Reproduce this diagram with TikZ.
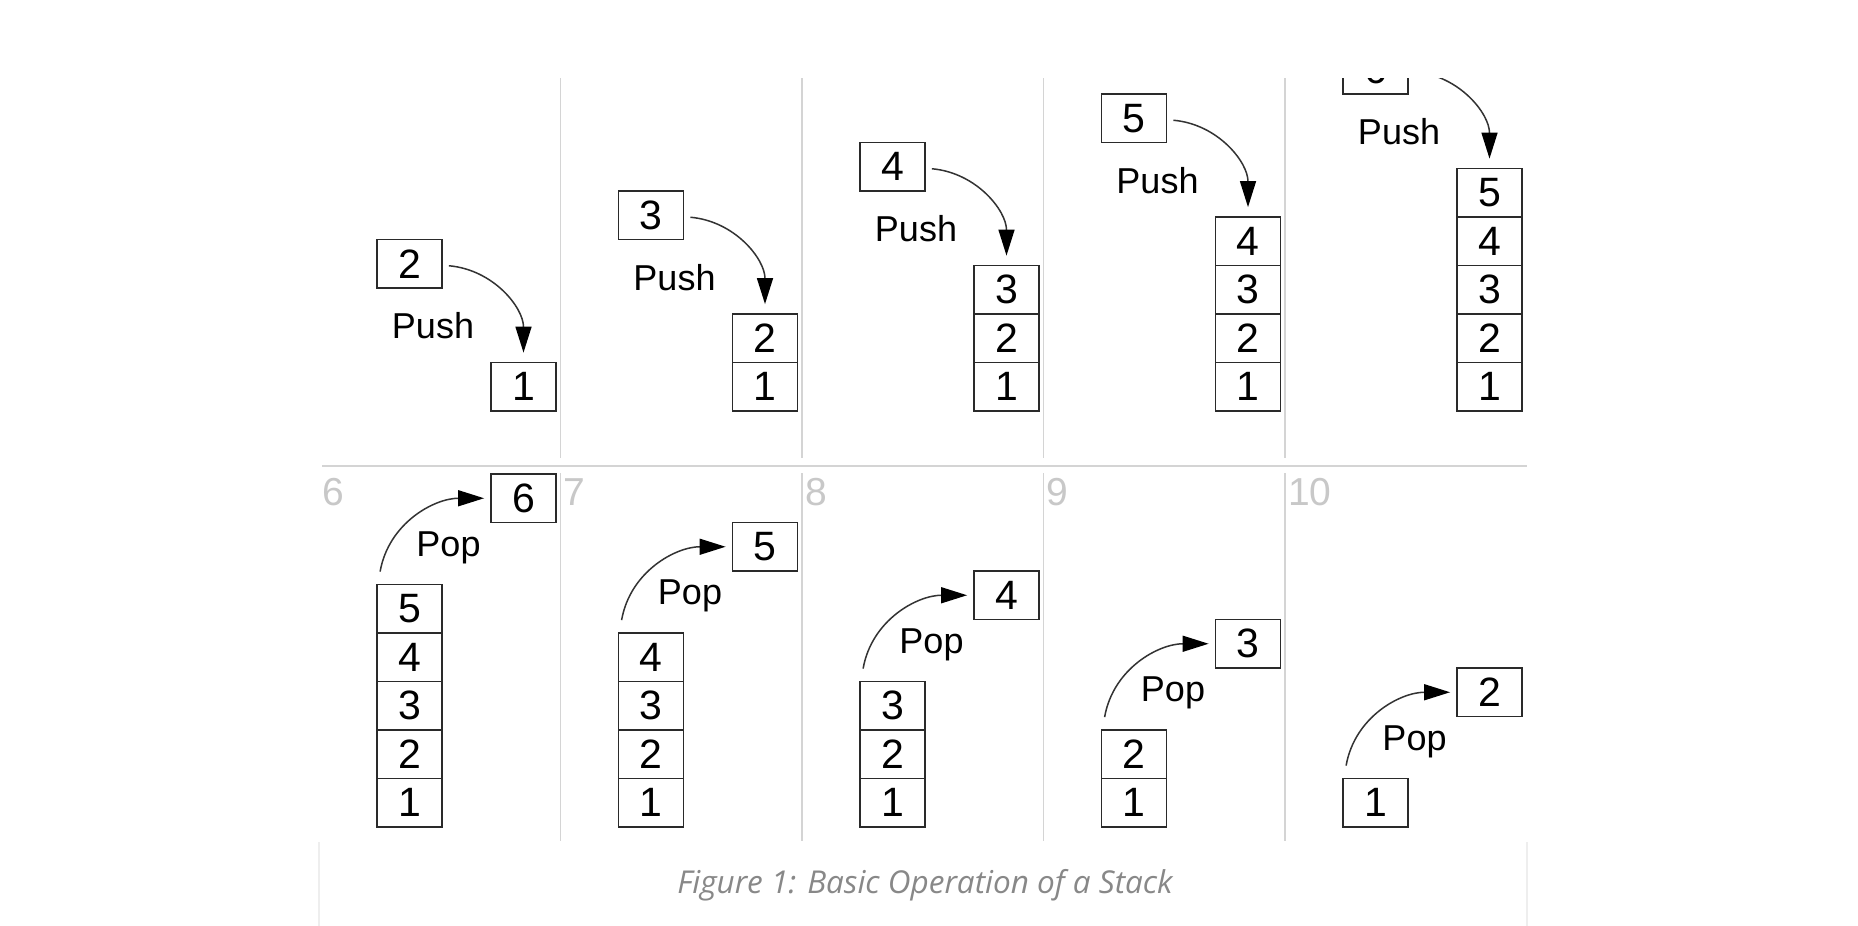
\documentclass[tikz,border=0pt]{standalone}
\usepackage{fontspec}
\setmainfont{Liberation Sans}
\newfontfamily\capfont{Open Sans}
\usetikzlibrary{arrows.meta}
\definecolor{boxline}{HTML}{2A2A2A}
\definecolor{arrline}{HTML}{333333}
\definecolor{divider}{HTML}{D4D4D4}
\definecolor{numgray}{HTML}{C8C8C8}
\definecolor{capgray}{HTML}{888888}
\definecolor{capborder}{HTML}{EEEEEE}
\begin{document}
\begin{tikzpicture}[x=1pt,y=-1pt,
  cell/.style={draw=boxline, line width=1.8pt, minimum width=65pt, minimum height=48.5pt,
    inner sep=0pt, font=\fontsize{41}{41}\selectfont, text=black},
  oplabel/.style={font=\fontsize{36}{36}\selectfont, text=black, anchor=base, inner sep=0pt},
  arr/.style={draw=arrline, line width=1.5pt, -{Triangle[length=26pt,width=16pt,fill=black,color=black]}},
  panelline/.style={draw=divider, line width=1.6pt},
  panelnum/.style={font=\fontsize{39}{39}\selectfont, text=numgray, anchor=north west, inner sep=0pt},
  captext/.style={font=\capfont\itshape\fontsize{31.5}{31.5}\selectfont, text=capgray, anchor=base}]
\useasboundingbox[fill=white] (0,0) rectangle (1858,926);
\begin{scope}
\clip (319,78) rectangle (1530,845);
% dividers
\foreach \xx in {560.5,802,1043.5,1285} {
  \draw[panelline] (\xx,78) -- (\xx,458);
  \draw[panelline] (\xx,473) -- (\xx,841);
}
\draw[panelline] (322,466) -- (1527,466);
% top row: push
\foreach \kk in {1,...,5} {
  \pgfmathsetmacro{\pLeft}{319+241.5*(\kk-1)}
  \foreach \ii in {1,...,\kk} {
    \node[cell] (s\kk c\ii) at (\pLeft+204.5, 411-48.5*\ii+24.25) {\ii};
  }
  \pgfmathsetmacro{\nby}{336.5-48.5*\kk-24.25}
  \pgfmathtruncatemacro{\nbv}{\kk+1}
  \node[cell] (n\kk) at (\pLeft+90.5, \nby) {\nbv};
  \node[oplabel] (push\kk) at (\pLeft+114, \nby+75) {Push};
  \draw[arr] ([xshift=6pt,yshift=-2pt]n\kk.east) to[out=-5,in=90] ([yshift=9pt]s\kk c\kk.north);
}
% bottom row: pop
\foreach \jj in {1,...,5} {
  \pgfmathsetmacro{\pLeft}{319+241.5*(\jj-1)}
  \pgfmathtruncatemacro{\ncell}{6-\jj}
  \pgfmathtruncatemacro{\popv}{7-\jj}
  \pgfmathtruncatemacro{\panelno}{\jj+5}
  \foreach \ii in {1,...,\ncell} {
    \node[cell] (b\jj c\ii) at (\pLeft+90.5, 827-48.5*\ii+24.25) {\ii};
  }
  \pgfmathsetmacro{\pby}{474+48.5*(\jj-1)+24.25}
  \node[cell] (p\jj) at (\pLeft+204.5, \pby) {\popv};
  \node[oplabel] (pop\jj) at (\pLeft+129.5, \pby+58) {Pop};
  \draw[arr] ([xshift=4pt,yshift=12pt]b\jj c\ncell.north west) to[out=80,in=180] ([xshift=-6pt]p\jj.west);
  \node[panelnum] (num\jj) at (\pLeft+3, 478) {\panelno};
}
\end{scope}
% caption box
\draw[draw=capborder, line width=1.5pt] (319,842) -- (319,926);
\draw[draw=capborder, line width=1.5pt] (1527,842) -- (1527,926);
\node[captext] (caption) at (925,893) {Figure 1: Basic Operation of a Stack};
\end{tikzpicture}
\end{document}
